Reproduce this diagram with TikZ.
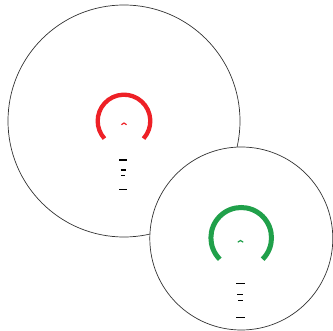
\documentclass[tikz,border=0pt]{standalone}
\begin{document}
\begin{tikzpicture}[x=1pt,y=-1pt,
  lens/.style={draw=black!80,line width=0.7pt,fill=white},
  ring/.style={line width=#1,line cap=butt},
  tick/.style={draw=black,line width=1.3pt},
  caret/.style={line width=1.2pt}]
\useasboundingbox (0,0) rectangle (333,331);
\definecolor{dotred}{HTML}{EE2026}
\definecolor{dotgreen}{HTML}{20A04A}
% large view
\node[lens,circle,minimum size=232pt,inner sep=0pt] (big) at (124,121) {};
\draw[dotred,ring=4.3pt] (big.center) ++(-42:26.3pt) arc[start angle=42,end angle=-222,radius=26.3];
\coordinate (rc) at (124,123);
\draw[dotred,caret] ([shift={(-2.6,1.7)}]rc) -- (rc) -- ([shift={(2.6,1.7)}]rc);
\coordinate (rt1) at (123.3,160);
\draw[tick] ([xshift=-4pt]rt1) -- ([xshift=4pt]rt1);
\draw[tick] (120.7,170) -- (125.7,170);
\draw[tick] (121.3,175.5) -- (125.3,175.5);
\draw[tick] (119.3,189.5) -- (127.3,189.5);
% small view
\node[lens,circle,minimum size=183pt,inner sep=0pt] (small) at (241.3,238.5) {};
\coordinate (gcen) at (241.2,237.8);
\draw[dotgreen,ring=5pt] (gcen) ++(-45:30.3pt) arc[start angle=45,end angle=-225,radius=30.3];
\coordinate (gc) at (240.5,240.5);
\draw[dotgreen,caret] ([shift={(-2.7,1.7)}]gc) -- (gc) -- ([shift={(2.7,1.7)}]gc);
\draw[tick] (236,283.8) -- (244.7,283.8);
\draw[tick] (237.3,294.5) -- (243.3,294.5);
\draw[tick] (238.3,300.8) -- (242.7,300.8);
\draw[tick] (236,317.5) -- (244.7,317.5);
\end{tikzpicture}
\end{document}
